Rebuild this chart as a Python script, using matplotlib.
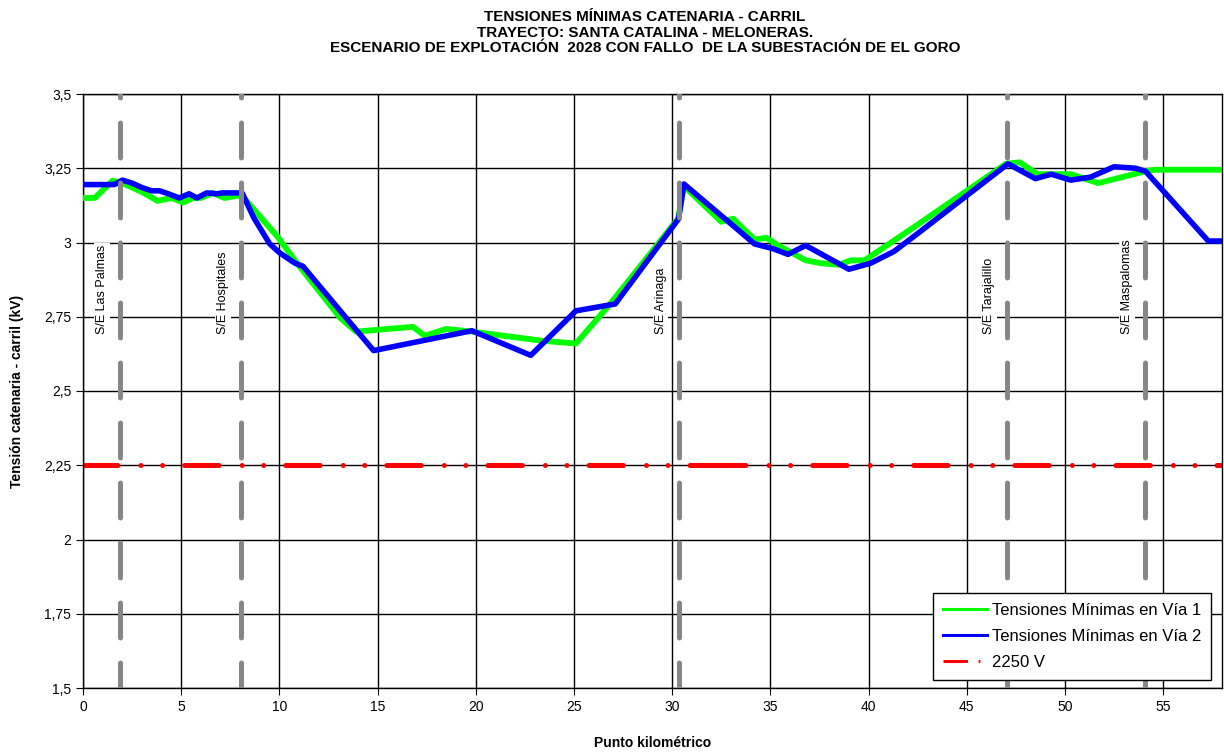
import matplotlib
matplotlib.use("Agg")
import matplotlib.pyplot as plt
from matplotlib.lines import Line2D

plt.rcParams['font.family'] = ['Liberation Sans', 'DejaVu Sans']

# km / kV
via1_km = [0, 0.6, 1.5, 2.0, 3.0, 3.8, 4.5, 5.1, 5.6, 6.0,
           6.6, 7.2, 7.8, 8.1, 9.9, 10.9, 13.1, 13.9, 16.8, 17.4,
           18.5, 19.8, 23.4, 25.1, 26.1, 26.8, 30.3, 30.6, 32.5, 33.1,
           34.2, 34.8, 35.4, 36.8, 37.6, 38.5, 39.1, 39.8, 42.5, 47.0,
           47.7, 48.6, 50.3, 51.7, 54.1, 54.6, 58.0]
via1_kv = [3.15, 3.15, 3.208, 3.20, 3.17, 3.14, 3.15, 3.135, 3.15, 3.15,
           3.167, 3.15, 3.157, 3.157, 3.02, 2.93, 2.746, 2.70, 2.716, 2.686,
           2.709, 2.70, 2.669, 2.66, 2.736, 2.79, 3.08, 3.19, 3.07, 3.08,
           3.01, 3.016, 2.99, 2.94, 2.93, 2.925, 2.94, 2.94, 3.06, 3.265,
           3.27, 3.23, 3.23, 3.20, 3.24, 3.245, 3.245]

via2_km = [0, 1.6, 2.0, 2.5, 3.0, 3.5, 3.9, 4.3, 4.9, 5.4,
           5.8, 6.3, 6.8, 7.1, 8.1, 8.7, 9.5, 10.0, 10.8, 11.2,
           13.4, 14.8, 19.8, 22.8, 25.1, 27.1, 30.33, 30.6, 34.2, 35.1,
           35.9, 36.8, 39.0, 40.1, 41.3, 42.5, 47.1, 48.5, 49.3, 50.3,
           51.3, 52.5, 53.6, 54.1, 55.1, 57.3, 58.0]
via2_kv = [3.195, 3.195, 3.21, 3.20, 3.185, 3.174, 3.174, 3.165, 3.15, 3.164,
           3.15, 3.167, 3.164, 3.167, 3.167, 3.083, 2.996, 2.966, 2.93, 2.92,
           2.746, 2.636, 2.703, 2.62, 2.77, 2.793, 3.08, 3.197, 2.995, 2.98,
           2.96, 2.99, 2.91, 2.93, 2.97, 3.03, 3.265, 3.215, 3.23, 3.21,
           3.22, 3.255, 3.25, 3.24, 3.167, 3.005, 3.005]

# 2250 V limit, the series has a break point near km 32
limite_km = [0, 32.0, 58]
limite_kv = [2.25, 2.25, 2.25]

subest_km = [1.88, 8.03, 30.33, 47.05, 54.1]
subest_nombres = ["S/E Las Palmas", "S/E Hospitales", "S/E Arinaga",
                  "S/E Tarajalillo", "S/E Maspalomas"]

yticks = [1.5, 1.75, 2.0, 2.25, 2.5, 2.75, 3.0, 3.25, 3.5]
ytick_labels = ["1,5", "1,75", "2", "2,25", "2,5", "2,75", "3", "3,25", "3,5"]
xticks = [0, 5, 10, 15, 20, 25, 30, 35, 40, 45, 50, 55]

fig = plt.figure(figsize=(12.24, 7.52), dpi=100)
ax = fig.add_axes([83/1224, 1 - 688/752, (1222 - 83)/1224, (688 - 94)/752])

ax.set_xlim(0, 58)
ax.set_ylim(1.5, 3.5)
ax.set_xticks(xticks)
ax.set_yticks(yticks)
ax.set_yticklabels(ytick_labels)
ax.tick_params(direction='out', length=5, labelsize=10, colors='black')
ax.grid(True, color='black', linewidth=1.0, zorder=0)
ax.set_axisbelow(True)
for s in ax.spines.values():
    s.set_color('black')
    s.set_linewidth(1.0)

# red limit line, dash pattern restarts at each point like in Excel
rojo = (0, (6.9, 4.6, 0.01, 4.3, 0.01, 4.4))
for i in range(len(limite_km) - 1):
    ax.plot(limite_km[i:i + 2], limite_kv[i:i + 2], color='#ff0000',
            linewidth=3.6, linestyle=rojo, dash_capstyle='round', zorder=2)

ax.plot(via1_km, via1_kv, color='#00ff00', linewidth=4.2, zorder=3,
        solid_joinstyle='round')
ax.plot(via2_km, via2_kv, color='#0000ff', linewidth=4.0, zorder=4,
        solid_joinstyle='round')

# substations
for km, nombre in zip(subest_km, subest_nombres):
    ax.annotate(nombre, xy=(km, 2.693), xytext=(-13, 0),
                textcoords='offset points', rotation=90,
                ha='center', va='bottom', fontsize=9, zorder=5,
                bbox=dict(boxstyle='square,pad=0.15', facecolor='white',
                          edgecolor='none'))
    ax.plot([km, km], [3.5, 1.5], color='#878787', linewidth=3.6,
            linestyle=(6.3, (7, 5)), dash_capstyle='round', zorder=6)

handles = [
    Line2D([], [], color='#00ff00', linewidth=2.2),
    Line2D([], [], color='#0000ff', linewidth=2.2),
    Line2D([], [], color='#ff0000', linewidth=2.2,
           linestyle=(0, (8, 3.5, 0.6, 3.5, 0.6, 3))),
]
labels = ["Tensiones Mínimas en Vía 1", "Tensiones Mínimas en Vía 2", "2250 V"]
leg = ax.legend(handles, labels, loc='lower right',
                bbox_to_anchor=(1211/1224, 1 - 680/752),
                bbox_transform=fig.transFigure, borderaxespad=0,
                fancybox=False, framealpha=1, edgecolor='black',
                fontsize=12, handlelength=2.6, handletextpad=0.3,
                labelspacing=0.66, borderpad=0.6)
leg.get_frame().set_linewidth(1.0)
leg.set_zorder(10)

ax.set_xlabel("Punto kilométrico", fontsize=10, fontweight='bold', labelpad=16)
ax.set_ylabel("Tensión catenaria - carril (kV)", fontsize=10, fontweight='bold',
              labelpad=14)

fig.text(645/1224, 1 - 10/752,
         "TENSIONES MÍNIMAS CATENARIA - CARRIL\n"
         "TRAYECTO: SANTA CATALINA - MELONERAS.\n"
         "ESCENARIO DE EXPLOTACIÓN  2028 CON FALLO  DE LA SUBESTACIÓN DE EL GORO",
         ha='center', va='top', fontsize=11, fontweight='bold',
         linespacing=1.15)

fig.savefig("out.png", dpi=100)
